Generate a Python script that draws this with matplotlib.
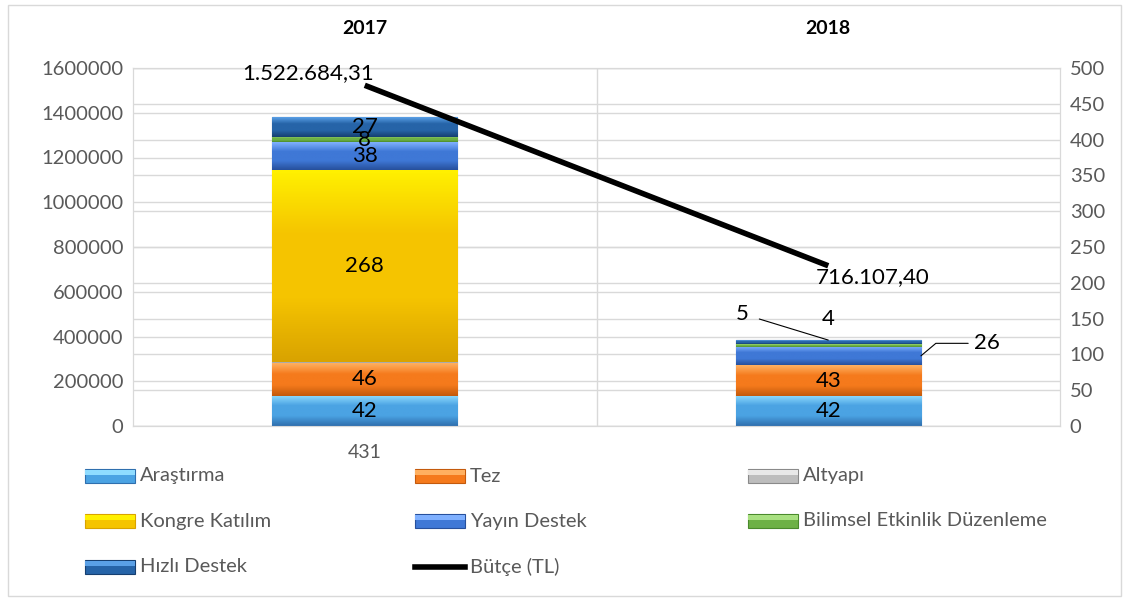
import numpy as np
import matplotlib.pyplot as plt
from matplotlib.patches import Rectangle
from matplotlib.colors import LinearSegmentedColormap
from matplotlib.lines import Line2D

plt.rcParams['font.family'] = ['Lato', 'DejaVu Sans']

years = ['2017', '2018']
series = ['Araştırma', 'Tez', 'Altyapı', 'Kongre Katılım', 'Yayın Destek',
          'Bilimsel Etkinlik Düzenleme', 'Hızlı Destek']
arastirma = [42, 42]
tez = [46, 43]
altyapi = [2, 0]
kongre = [268, 0]
yayin = [38, 26]
bilimsel = [8, 4]
hizli = [27, 5]
butce = [1522684.31, 716107.40]
butce_labels = ['1.522.684,31', '716.107,40']

# light top / mid / dark bottom for the bevel look
colors = [('#8fdcff', '#4ba3e3', '#2f6fae'),
          ('#ffb060', '#f57a1c', '#c45a0c'),
          ('#e8e8e8', '#bdbdbd', '#8a8a8a'),
          ('#fff000', '#f5c400', '#d9a300'),
          ('#7fb0ff', '#3f78d6', '#27509c'),
          ('#a8e080', '#6db145', '#4a8a2c'),
          ('#5aa0e6', '#2664a8', '#163f70')]

W, H = 1129, 601
fig = plt.figure(figsize=(W / 100, H / 100), dpi=100)
ax = fig.add_axes([133 / W, 1 - 426 / H, (1060 - 133) / W, (426 - 68) / H])
ax2 = ax.twinx()
ax.set_zorder(1)
ax2.set_zorder(2)
ax2.patch.set_visible(False)

ymax_bar, ymax_line = 500, 1600000

x = np.arange(len(years))
width = 0.4
data = [arastirma, tez, altyapi, kongre, yayin, bilimsel, hizli]
bottom = np.zeros(len(years))
grad = np.linspace(0, 1, 64).reshape(-1, 1)
for vals, name, cc in zip(data, series, colors):
    vals = np.array(vals, dtype=float)
    bars = ax.bar(x, vals, width, bottom=bottom, color=cc[1], edgecolor=cc[2],
                  linewidth=0.8, zorder=3)
    cmap = LinearSegmentedColormap.from_list(name, [cc[2], cc[1], cc[1], cc[0]])
    for b in bars:
        if b.get_height() <= 0:
            continue
        im = ax.imshow(grad, cmap=cmap, aspect='auto', origin='lower',
                       extent=[b.get_x(), b.get_x() + b.get_width(),
                               b.get_y(), b.get_y() + b.get_height()],
                       zorder=3.5)
        im.set_clip_path(b)
    bottom += vals

# bar labels
lab_kw = dict(ha='center', va='center', fontsize=16, color='black', zorder=6)
cum = np.cumsum(np.array(data, dtype=float), axis=0)
for i, vals in enumerate(data):
    if i == 2:
        continue
    v = vals[0]
    if v > 0:
        ax.text(x[0], cum[i][0] - v / 2, str(v), **lab_kw)
for i in [0, 1]:
    ax.text(x[1], cum[i][1] - data[i][1] / 2, str(data[i][1]), **lab_kw)
ax.annotate(str(yayin[1]), xy=(x[1] + width / 2, cum[4][1] - yayin[1] / 2),
            xytext=(38, 9), textcoords='offset points', ha='left', va='center',
            fontsize=16, arrowprops=dict(arrowstyle='-', color='black', lw=0.8,
                                         connectionstyle='angle,angleA=0,angleB=40,rad=0',
                                         shrinkA=2, shrinkB=0), zorder=6)
ax.annotate(str(bilimsel[1]), xy=(x[1], cum[5][1]), xytext=(0, 18),
            textcoords='offset points', ha='center', va='center', fontsize=16, zorder=6)
ax.annotate(str(hizli[1]), xy=(x[1], cum[6][1]), xytext=(-62, 19),
            textcoords='offset points', ha='center', va='center', fontsize=16,
            arrowprops=dict(arrowstyle='-', color='black', lw=0.8,
                            connectionstyle='angle,angleA=0,angleB=-17,rad=0',
                            shrinkA=6, shrinkB=0), zorder=6)
ax.annotate(str(int(cum[-1][0])), xy=(x[0], 0), xytext=(0, -19),
            textcoords='offset points', ha='center', va='center', fontsize=14,
            color='#595959', annotation_clip=False)

# budget line
ax2.plot(x, butce, color='black', lw=4, solid_capstyle='butt', zorder=5)
ax2.annotate(butce_labels[0], xy=(x[0], butce[0]), xytext=(-41, 9),
             textcoords='offset points', ha='center', va='center', fontsize=16)
ax2.annotate(butce_labels[1], xy=(x[1], butce[1]), xytext=(32, -8),
             textcoords='offset points', ha='center', va='center', fontsize=16)

# axes
ax.set_xlim(-0.5, 1.5)
ax.set_ylim(0, ymax_bar)
ax.set_yticks(np.arange(0, ymax_bar + 1, 50))
ax.yaxis.tick_right()
ax2.set_ylim(0, ymax_line)
line_ticks = np.arange(0, ymax_line + 1, 200000)
ax2.set_yticks(line_ticks)
ax2.yaxis.tick_left()
ax2.ticklabel_format(axis='y', style='plain')
for a in (ax, ax2):
    a.tick_params(axis='y', length=0, labelsize=14.5, labelcolor='#595959', pad=7)
    for s in a.spines.values():
        s.set_color('#d9d9d9')
ax.grid(axis='y', color='#d9d9d9', lw=1, zorder=0)
ax.set_axisbelow(True)
# gridlines of the left axis, drawn under the bars
for t in line_ticks:
    ax.axhline(t * ymax_bar / ymax_line, color='#d9d9d9', lw=1, zorder=0.5)
ax.xaxis.tick_top()
ax.set_xticks(x)
ax.set_xticklabels(years, fontweight='bold', fontsize=14)
ax.tick_params(axis='x', length=0, pad=22)
ax2.tick_params(axis='x', top=False, labeltop=False, bottom=False, labelbottom=False)
ax.axvline(0.5, color='#d9d9d9', lw=1, zorder=0)

# legend, laid out like the original (row-wise, 3 columns)
entries = list(zip(series, colors)) + [('Bütçe (TL)', None)]
col_x = [85, 415, 748]
row_y = [476, 521, 567]
for k, (name, cc) in enumerate(entries):
    px, py = col_x[k % 3], row_y[k // 3]
    if cc is None:
        fig.add_artist(Line2D([px / W, (px + 50) / W], [1 - py / H] * 2,
                              color='black', lw=4))
    else:
        fig.add_artist(Rectangle((px / W, 1 - (py + 7) / H), 50 / W, 14 / H,
                                 facecolor=cc[1], edgecolor=cc[2], lw=0.8))
        fig.add_artist(Rectangle((px / W, 1 - (py - 1) / H), 50 / W, 5 / H,
                                 facecolor=cc[0], edgecolor='none'))
    fig.text((px + 55) / W, 1 - py / H, name, ha='left', va='center',
             fontsize=14.5, color='#595959')

fig.add_artist(Rectangle((8 / W, 5 / H), (W - 16) / W, (H - 10) / H,
                         fill=False, edgecolor='#d9d9d9', lw=1))

fig.savefig('out.png', dpi=100)
